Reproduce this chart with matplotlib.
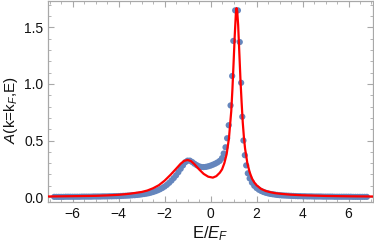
import numpy as np
import matplotlib
matplotlib.use('Agg')
import matplotlib.pyplot as plt
from matplotlib.ticker import MultipleLocator

plt.rcParams['font.family'] = ['Liberation Sans', 'DejaVu Sans']
plt.rcParams['mathtext.fontset'] = 'custom'
plt.rcParams['mathtext.rm'] = 'Liberation Sans'
plt.rcParams['mathtext.it'] = 'Liberation Sans:italic'

# blue data points (numerical spectral function)
dots_x = [-6.8, -6.7, -6.6, -6.5, -6.4, -6.3, -6.2, -6.1, -6.0, -5.9, -5.8, -5.7, -5.6, -5.5,
          -5.4, -5.3, -5.2, -5.1, -5.0, -4.9, -4.8, -4.7, -4.6, -4.5, -4.4, -4.3, -4.2, -4.1,
          -4.0, -3.9, -3.8, -3.7, -3.6, -3.5, -3.4, -3.3, -3.2, -3.1, -3.0, -2.9, -2.8, -2.7,
          -2.6, -2.5, -2.4, -2.3, -2.2, -2.1, -2.0, -1.9, -1.8, -1.7, -1.6, -1.5, -1.4, -1.3,
          -1.2, -1.1, -1.0, -0.9, -0.8, -0.7, -0.6, -0.5, -0.4, -0.3, -0.2, -0.1, 0.0, 0.1,
          0.2, 0.3, 0.4, 0.5,
          0.57, 0.65, 0.72, 0.79, 0.87, 0.94, 0.99, 1.07, 1.19, 1.27, 1.33, 1.38, 1.43, 1.49,
          1.55, 1.62,
          1.7, 1.8, 1.9, 2.0, 2.1, 2.2, 2.3, 2.4, 2.5, 2.6, 2.7, 2.8, 2.9, 3.0, 3.1, 3.2, 3.3,
          3.4, 3.5, 3.6, 3.7, 3.8, 3.9, 4.0, 4.1, 4.2, 4.3, 4.4, 4.5, 4.6, 4.7, 4.8, 4.9, 5.0,
          5.1, 5.2, 5.3, 5.4, 5.5, 5.6, 5.7, 5.8, 5.9, 6.0, 6.1, 6.2, 6.3, 6.4, 6.5, 6.6, 6.7, 6.8]
dots_y = [0.002, 0.002, 0.002, 0.002, 0.002, 0.003, 0.003, 0.003, 0.003, 0.003, 0.003, 0.003, 0.004, 0.004,
          0.004, 0.004, 0.004, 0.005, 0.005, 0.005, 0.005, 0.006, 0.006, 0.006, 0.007, 0.007, 0.008, 0.008,
          0.009, 0.010, 0.011, 0.012, 0.013, 0.014, 0.016, 0.017, 0.019, 0.021, 0.024, 0.027, 0.030, 0.034,
          0.039, 0.045, 0.052, 0.060, 0.069, 0.080, 0.093, 0.108, 0.126, 0.146, 0.168, 0.192, 0.220, 0.250,
          0.280, 0.308, 0.322, 0.322, 0.310, 0.295, 0.282, 0.272, 0.266, 0.265, 0.267, 0.272, 0.278, 0.286,
          0.295, 0.306, 0.320, 0.345,
          0.385, 0.44, 0.52, 0.635, 0.81, 1.07, 1.38, 1.65, 1.65, 1.37, 1.01, 0.71, 0.50, 0.37,
          0.28, 0.21,
          0.165, 0.128, 0.100, 0.080, 0.065, 0.054, 0.045, 0.038, 0.033, 0.028, 0.025, 0.022, 0.019, 0.017, 0.015, 0.014, 0.013,
          0.012, 0.011, 0.010, 0.009, 0.008, 0.008, 0.007, 0.007, 0.006, 0.006, 0.006, 0.005, 0.005, 0.005, 0.005, 0.004, 0.004,
          0.004, 0.004, 0.004, 0.003, 0.003, 0.003, 0.003, 0.003, 0.003, 0.003, 0.003, 0.002, 0.002, 0.002, 0.002, 0.002, 0.002, 0.002]

# red fitted curve
fit_x = [-7.2, -6.0, -5.0, -4.5, -4.0, -3.5, -3.0, -2.75, -2.5, -2.25, -2.0, -1.75, -1.5, -1.3,
         -1.15, -1.0, -0.85, -0.7, -0.5, -0.3, -0.1, 0.1, 0.25, 0.4, 0.5, 0.6, 0.7, 0.8, 0.9,
         0.95, 1.0, 1.05, 1.1, 1.13, 1.16, 1.2, 1.25, 1.3, 1.35, 1.4, 1.45, 1.5, 1.6, 1.7, 1.8,
         1.9, 2.0, 2.2, 2.4, 2.6, 2.8, 3.0, 3.5, 4.0, 5.0, 6.0, 7.2]
fit_y = [0.005, 0.008, 0.011, 0.015, 0.020, 0.030, 0.045, 0.058, 0.078, 0.105, 0.145, 0.195, 0.250, 0.295,
         0.320, 0.328, 0.318, 0.290, 0.245, 0.205, 0.180, 0.172, 0.185, 0.215, 0.245, 0.300, 0.380, 0.520, 0.760,
         0.950, 1.180, 1.420, 1.620, 1.670, 1.640, 1.520, 1.280, 1.040, 0.840, 0.660, 0.530, 0.430, 0.300, 0.220, 0.165,
         0.130, 0.105, 0.072, 0.054, 0.043, 0.035, 0.030, 0.021, 0.016, 0.010, 0.007, 0.005]

frame_col = '#a8a8a8'

fig = plt.figure(figsize=(3.74, 2.46), dpi=100)
ax = fig.add_axes([0.129, 0.180, 0.868, 0.816])

ax.scatter(dots_x, dots_y, s=20, color='#6586bd', edgecolors='none', zorder=2)
ax.plot(fit_x, fit_y, color='red', lw=1.6, zorder=3)

ax.set_xlim(-7.06, 7.06)
ax.set_ylim(-0.041, 1.733)
ax.xaxis.set_major_locator(MultipleLocator(2))
ax.xaxis.set_minor_locator(MultipleLocator(0.5))
ax.yaxis.set_major_locator(MultipleLocator(0.5))
ax.yaxis.set_minor_locator(MultipleLocator(0.1))
ax.yaxis.set_major_formatter(plt.FuncFormatter(lambda v, p: '%.1f' % v))
ax.xaxis.set_major_formatter(plt.FuncFormatter(lambda v, p: ('\u2212%d' % -v) if v < 0 else '%d' % v))

ax.tick_params(which='both', direction='in', top=True, right=True, color=frame_col,
               labelsize=10, labelcolor='#111111', pad=3.5)
ax.tick_params(which='major', length=4, width=0.8)
ax.tick_params(which='minor', length=2, width=0.6)
for sp in ax.spines.values():
    sp.set_color(frame_col)
    sp.set_linewidth(0.9)

ax.set_xlabel('E/$E_F$', fontsize=12, color='#111111', labelpad=3)
ax.set_ylabel('$A$(k=k$_F$,E)', fontsize=11, color='#111111')
ax.yaxis.set_label_coords(-0.088, 0.457)

fig.savefig('out.png', dpi=100)
